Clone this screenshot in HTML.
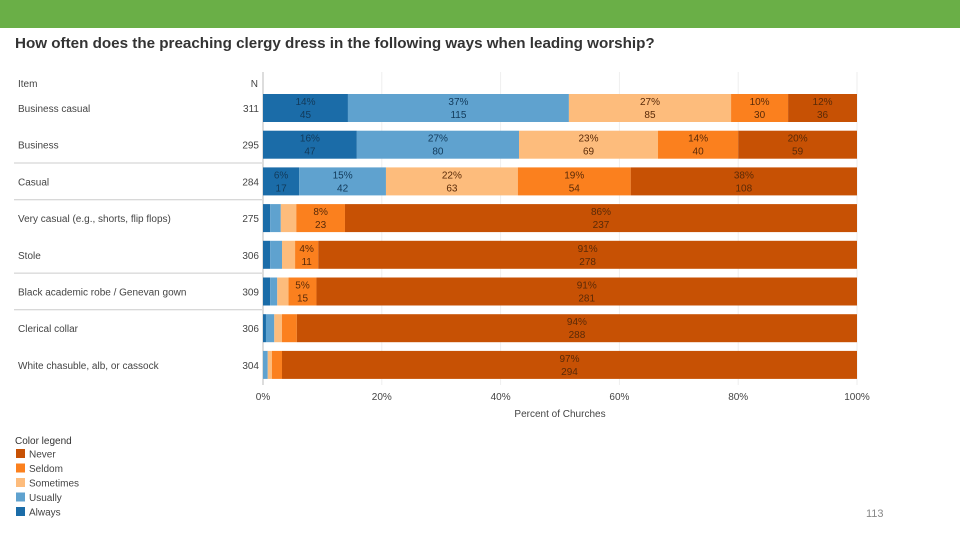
<!DOCTYPE html>
<html><head><meta charset="utf-8">
<style>
body{margin:0;width:960px;height:540px;background:#fff;font-family:"Liberation Sans",sans-serif;overflow:hidden;position:relative}
</style></head><body>
<div style="position:absolute;left:0;top:0;width:960px;height:28px;background:#6aaf47"></div>
<div style="position:absolute;left:15px;top:35px;font-size:15.2px;font-weight:bold;color:#333">How often does the preaching clergy dress in the following ways when leading worship?</div>
<div style="position:absolute;left:866px;top:508px;font-size:11px;color:#888">113</div>
<svg id="chart" width="960" height="540" style="position:absolute;left:0;top:0"></svg>
<script>
const items=["Business casual","Business","Casual","Very casual (e.g., shorts, flip flops)","Stole","Black academic robe / Genevan gown","Clerical collar","White chasuble, alb, or cassock"];
const nValues=[311,295,284,275,306,309,306,304];
const always=[14.3,15.8,6.1,1.2,1.2,1.2,0.5,0];
const usually=[37.2,27.3,14.6,1.8,2.0,1.2,1.4,0.8];
const sometimes=[27.3,23.4,22.2,2.6,2.2,1.9,1.3,0.7];
const seldom=[9.6,13.5,19.0,8.2,3.9,4.7,2.5,1.7];
const never=[11.6,20.0,38.1,86.2,90.7,91.0,94.3,96.8];
const alwaysCounts=[45,47,17,3,4,4,2,0];
const usuallyCounts=[115,80,42,5,6,4,4,2];
const sometimesCounts=[85,69,63,7,7,6,4,2];
const seldomCounts=[30,40,54,23,11,15,8,5];
const neverCounts=[36,59,108,237,278,281,288,294];
const tickLabels=["0%","20%","40%","60%","80%","100%"];
const tickValues=[0,20,40,60,80,100];
const legendLabels=["Never","Seldom","Sometimes","Usually","Always"];
const series=[always,usually,sometimes,seldom,never];
const counts=[alwaysCounts,usuallyCounts,sometimesCounts,seldomCounts,neverCounts];
const seriesNames=["always","usually","sometimes","seldom","never"];
const colors=["#1b6ca8","#5fa2cf","#fdbc7c","#fb801e","#c75104"];
const legendColors=["#c75104","#fb801e","#fdbc7c","#5fa2cf","#1b6ca8"];
const NS="http://www.w3.org/2000/svg";
const svg=document.getElementById('chart');
const x0=263,x1=857;
const xs=v=>x0+(x1-x0)*v/100;
const rowY=i=>108+i*36.7;
const barH=28;
function mk(tag,attrs,parent){const e=document.createElementNS(NS,tag);for(const k in attrs)e.setAttribute(k,attrs[k]);(parent||svg).appendChild(e);return e;}
function txt(s,x,y,attrs){const t=mk('text',Object.assign({x:x,y:y,'font-family':'Liberation Sans, sans-serif','font-size':10,fill:'#444'},attrs));t.textContent=s;return t;}
tickValues.forEach((v,i)=>{
 const g=mk('line',{x1:xs(v),x2:xs(v),y1:72,y2:385,stroke:i==0?'#bbb':'#eee'});
 
 
 const t=txt(tickLabels[i],xs(v),400,{'text-anchor':'middle'});
 
 
});
const xt=txt("Percent of Churches",xs(50),417,{'text-anchor':'middle'});


const h1=txt("Item",18,87,{});


const h2=txt("N",258,87,{'text-anchor':'end'});


[1,2,4,5].forEach(i=>{
 const l=mk('line',{x1:14,x2:262,y1:rowY(i)+18.3,y2:rowY(i)+18.3,stroke:'#ccc'});
 
 
});
items.forEach((it,i)=>{
 const cy=rowY(i);
 const lt=txt(it,18,cy+4,{});
 
 
 const nt=txt(String(nValues[i]),259,cy+4,{'text-anchor':'end'});
 
 
 let acc=0;
 series.forEach((s,j)=>{
  const v=s[i];
  if(v>0){
   const r=mk('rect',{x:xs(acc),y:cy-barH/2,width:xs(acc+v)-xs(acc),height:barH,fill:colors[j]});
   
   
   if(v>=3){
    const cx=(xs(acc)+xs(acc+v))/2;
    const fc=j<2?'#123a5a':'#5a2a08';
    const a=txt(Math.round(v)+"%",cx,cy-3,{'text-anchor':'middle',fill:fc});
    
    
    const b=txt(String(counts[j][i]),cx,cy+10,{'text-anchor':'middle',fill:fc});
    
    
   }
  }
  acc+=v;
 });
});
const lgT=txt("Color legend",15,444,{fill:'#333'});


legendLabels.forEach((l,i)=>{
 const y=449+i*14.5;
 const r=mk('rect',{x:16,y:y,width:9,height:9,fill:legendColors[i]});
 
 
 const t=txt(l,29,y+8.5,{});
 
 
});
</script>
</body></html>
